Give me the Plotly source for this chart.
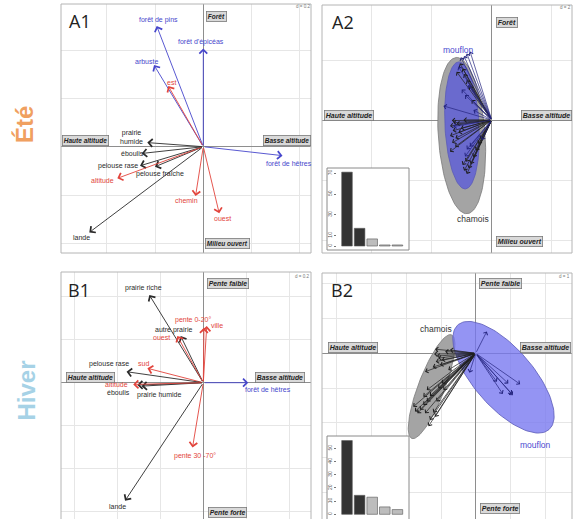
import numpy as np
import plotly.graph_objects as go

W, H = 573, 519

# ---------------- DATA ----------------
# A1 : summer, habitat variables
a1_names = ["forêt de pins", "forêt d'épicéas", "arbuste", "est", "forêt de hêtres",
            "prairie<br>humide", "éboulis", "pelouse rase", "pelouse fraîche",
            "altitude", "chemin", "ouest", "lande"]
a1_x = [-0.193, 0.000, -0.204, -0.145, 0.328, -0.232, -0.255, -0.262, -0.200, -0.356, -0.032, 0.066, -0.472]
a1_y = [0.500, 0.407, 0.338, 0.251, -0.037, 0.017, -0.028, -0.079, -0.083, -0.131, -0.204, -0.276, -0.355]
a1_type = ["b", "b", "b", "r", "b", "k", "k", "k", "k", "r", "r", "r", "k"]

# B1 : winter, habitat variables
b1_names = ["prairie riche", "autre prairie", "ouest", "pente 0-20°", "ville", "sud",
            "pelouse rase", "éboulis", "prairie humide", "altitude", "pente 30 -70°", "lande",
            "forêt de hêtres"]
b1_x = [-0.251, -0.105, -0.121, 0.003, 0.016, -0.260, -0.357, -0.307, -0.287, -0.326, -0.050, -0.364, 0.209]
b1_y = [0.408, 0.217, 0.217, 0.256, 0.264, 0.067, 0.051, -0.011, -0.016, -0.008, -0.301, -0.549, 0.000]
b1_type = ["k", "k", "r", "r", "r", "r", "k", "k", "k", "r", "r", "k", "b"]

# A2 : summer, individuals
a2_mouflon_x = [-0.72, -0.83, -0.92, -1.03, -1.11, -1.00, -0.89, -1.61, -0.61, -0.78, -0.83, -0.89, -0.72, -0.33, -1.28]
a2_mouflon_y = [2.28, 2.22, 2.13, 2.09, 1.78, 1.02, 0.83, 0.47, 0.33, 1.17, -0.98, -1.22, -0.89, -0.67, -0.22]
a2_chamois_x = [-1.06, -0.97, -0.92, -0.83, -0.74, -1.17, -1.33, -1.28, -1.39, -1.30, -1.39, -1.32, -1.39, -1.17, -1.11,
                -1.21, -0.92, -0.83, -0.77, -0.70, -0.61, -0.52, -0.44, -0.37, -0.86, -0.97, -1.03, -0.94, -0.67, -1.22]
a2_chamois_y = [1.89, 1.72, 1.53, 1.33, 1.13, 1.61, -0.02, -0.09, -0.20, -0.36, -0.53, -0.76, -1.06, -0.13, -0.42,
                -0.61, -1.69, -1.80, -1.61, -1.47, -1.24, -1.02, -0.80, -0.64, -1.39, -1.50, -0.28, 0.00, 0.67, -0.89]
# ellipses: centre x, centre y, semi-major, semi-minor, angle (deg)
a2_ell_chamois = [-1.00, -0.52, 2.61, 0.78, 94]
a2_ell_mouflon = [-0.99, -0.18, 2.12, 0.57, 93]

# B2 : winter, individuals
b2_chamois_x = [-1.17, -1.20, -1.12, -1.08, -1.15, -1.03, -1.24, -1.46, -0.98, -0.88, -1.41, -1.51, -1.32, -1.08, -0.98,
                -1.80, -1.75, -1.68, -1.61, -1.51, -1.46, -1.22, -1.17, -1.36, -1.32, -1.13, -0.93, -0.74, -0.79, -1.41]
b2_chamois_y = [0.12, -0.02, -0.08, -0.14, -0.24, -0.34, -0.40, -0.53, -0.19, 0.05, -1.06, -1.25, -1.23, -1.01, -0.87,
                -1.54, -1.68, -1.73, -1.63, -1.49, -1.73, -1.71, -1.83, -2.10, -1.92, -1.39, -1.06, 0.10, -0.48, -1.39]
b2_mouflon_x = [0.32, -0.18, 1.28, 0.94, 0.78, 1.04, 1.07, 0.61]
b2_mouflon_y = [0.63, -0.56, -0.89, -0.87, -1.17, -1.17, -1.21, -0.82]
b2_ell_chamois = [-1.27, -0.96, 1.60, 0.38, 69]
b2_ell_mouflon = [0.80, -0.69, 2.00, 0.85, -49]

# eigenvalue insets
a2_eig = [71, 17, 6.8, 1.0, 1.0]
b2_eig = [56, 14.4, 13, 5.6, 3.6]
a2_eig_ticks = [0, 10, 30, 50, 70]
b2_eig_ticks = [0, 10, 20, 30, 40, 50]

# ---------------- STYLE / LAYOUT ----------------
FONT = "Liberation Sans, Arial, sans-serif"
COL = {"k": "#2a2a2a", "r": "#e2443c", "b": "#4646cc"}

# panel geometry in pixels: frame, origin, pixels per unit, grid step
panels = {
    "A1": dict(ax="", x0=61, x1=311, y0=4, y1=253, ox=203.3, oy=146.7, ppu=241.5, d=0.2),
    "A2": dict(ax="2", x0=322, x1=572, y0=5, y1=253, ox=491.7, oy=120.0, ppu=30.0, d=2),
    "B1": dict(ax="3", x0=61, x1=311, y0=272, y1=519, ox=203.3, oy=382.7, ppu=215.0, d=0.2),
    "B2": dict(ax="4", x0=322, x1=572, y0=273, y1=519, ox=475.7, oy=353.3, ppu=34.7, d=1),
}

fig = go.Figure()
layout = dict(width=W, height=H, margin=dict(l=0, r=0, t=0, b=0),
              paper_bgcolor="white", plot_bgcolor="white", showlegend=False)
shapes = []
annotations = []


def px_x(p):
    return p / W


def px_y(p):
    return 1 - p / H


for key, p in panels.items():
    a = p["ax"]
    xr = [(p["x0"] - p["ox"]) / p["ppu"], (p["x1"] - p["ox"]) / p["ppu"]]
    yr = [(p["oy"] - p["y1"]) / p["ppu"], (p["oy"] - p["y0"]) / p["ppu"]]
    common = dict(showgrid=True, gridcolor="#e6e6e6", gridwidth=1, zeroline=True,
                  zerolinecolor="#8e8e8e", zerolinewidth=1, showticklabels=False,
                  ticks="", showline=False, tick0=0, dtick=p["d"], fixedrange=True)
    layout["xaxis" + a] = dict(domain=[px_x(p["x0"]), px_x(p["x1"])], range=xr,
                               anchor="y" + a, **common)
    layout["yaxis" + a] = dict(domain=[px_y(p["y1"]), px_y(p["y0"])], range=yr,
                               anchor="x" + a, **common)
    bottom = p["y1"] if key.startswith("A") else p["y1"] + 6
    shapes.append(dict(type="rect", xref="paper", yref="paper", layer="above",
                       x0=px_x(p["x0"]), x1=px_x(p["x1"]), y0=px_y(bottom), y1=px_y(p["y0"]),
                       line=dict(color="#b4b4b4", width=1)))
    # dummy trace so the subplot exists
    fig.add_trace(go.Scatter(x=[0], y=[0], mode="markers", marker=dict(size=1, opacity=0),
                             xaxis="x" + a, yaxis="y" + a, hoverinfo="skip"))


def ref(a):
    return "x" + a, "y" + a


def arrow(a, x, y, color, width, size):
    xr_, yr_ = ref(a)
    return dict(x=x, y=y, ax=0, ay=0, xref=xr_, yref=yr_, axref=xr_, ayref=yr_, text="",
                showarrow=True, arrowhead=4, arrowsize=size, arrowwidth=width,
                arrowcolor=color, standoff=0)


def ellipse(params, n=120):
    cx, cy, A, B, ang = params
    t = np.linspace(0, 2 * np.pi, n)
    th = np.deg2rad(ang)
    ex = cx + A * np.cos(t) * np.cos(th) - B * np.sin(t) * np.sin(th)
    ey = cy + A * np.cos(t) * np.sin(th) + B * np.sin(t) * np.cos(th)
    return ex, ey


def paper_text(txt, lx, ly, font, **kw):
    d = dict(x=px_x(lx), y=px_y(ly), xref="paper", yref="paper", showarrow=False, text=txt,
             xanchor="center", yanchor="middle", font=font)
    d.update(kw)
    return d


# ---- A1 / B1 variable arrows + labels ----
a1_offsets = [(2, 6), (-2, 6), (-8, 4), (3, 4), (6, -8), (-16, 6), (-9, 0), (-22, 0),
              (5, -7), (-15, -2), (-9, -5), (3, -5), (-8, -5)]
b1_offsets = [(-6, 7), (-7, 6), (-16, -1), (-11, 8), (10, 0), (-4, 5), (-18, 8), (-19, -7),
              (17, -9), (-17, 0), (2, -9), (-8, -6), (20, -7)]

for names, xs, ys, types, offs, a in [(a1_names, a1_x, a1_y, a1_type, a1_offsets, ""),
                                       (b1_names, b1_x, b1_y, b1_type, b1_offsets, "3")]:
    for n_, x, y, t, (dx, dy) in zip(names, xs, ys, types, offs):
        annotations.append(arrow(a, x, y, COL[t], 0.9, 1.7))
    for n_, x, y, t, (dx, dy) in zip(names, xs, ys, types, offs):
        xr_, yr_ = ref(a)
        annotations.append(dict(x=x, y=y, xref=xr_, yref=yr_, text=n_, showarrow=False,
                                xanchor="center", yanchor="middle",
                                xshift=dx, yshift=dy, font=dict(family=FONT, size=7, color=COL[t])))

# ---- A2 / B2 individuals ----
for a, ell_c, ell_m, cx, cy, mx, my, lab_c, lab_m, mfill in [
        ("2", a2_ell_chamois, a2_ell_mouflon, a2_chamois_x, a2_chamois_y, a2_mouflon_x, a2_mouflon_y,
         (-0.61, -3.31), (-1.11, 2.33), "rgba(96,96,214,0.85)"),
        ("4", b2_ell_chamois, b2_ell_mouflon, b2_chamois_x, b2_chamois_y, b2_mouflon_x, b2_mouflon_y,
         (-1.13, 0.70), (1.71, -2.64), "rgba(118,118,240,0.78)")]:
    ex, ey = ellipse(ell_c)
    fig.add_trace(go.Scatter(x=ex, y=ey, mode="lines", fill="toself", fillcolor="#a4a4a4",
                             line=dict(color="#7a7a7a", width=0.8), xaxis="x" + a, yaxis="y" + a,
                             hoverinfo="skip"))
    ex, ey = ellipse(ell_m)
    fig.add_trace(go.Scatter(x=ex, y=ey, mode="lines", fill="toself", fillcolor=mfill,
                             line=dict(color="#5a5ab8", width=0.8), xaxis="x" + a, yaxis="y" + a,
                             hoverinfo="skip"))
    for x, y in zip(cx, cy):
        annotations.append(arrow(a, x, y, "#1e1e1e", 0.7, 1.3))
    for x, y in zip(mx, my):
        annotations.append(arrow(a, x, y, "#24247e", 0.7, 1.3))
    xr_, yr_ = ref(a)
    annotations.append(dict(x=lab_c[0], y=lab_c[1], xref=xr_, yref=yr_, text="chamois", showarrow=False,
                            xanchor="center", yanchor="middle",
                            font=dict(family=FONT, size=8.5, color="#333333")))
    annotations.append(dict(x=lab_m[0], y=lab_m[1], xref=xr_, yref=yr_, text="mouflon", showarrow=False,
                            xanchor="center", yanchor="middle",
                            font=dict(family=FONT, size=8.5, color="#4a4ad0")))

# ---- eigenvalue insets ----
insets = [
    dict(ax="5", eig=a2_eig, ticks=a2_eig_ticks, bx0=327, bx1=409, by0=168, by1=250, base=246, ppv=1.04),
    dict(ax="6", eig=b2_eig, ticks=b2_eig_ticks, bx0=327, bx1=409, by0=436, by1=525, base=514.3, ppv=1.317),
]
for ins in insets:
    a = ins["ax"]
    by1 = min(ins["by1"], H)
    xr = [(ins["bx0"] - 347) / 12.6, (ins["bx1"] - 347) / 12.6]
    yr = [(ins["base"] - by1) / ins["ppv"], (ins["base"] - ins["by0"]) / ins["ppv"]]
    layout["xaxis" + a] = dict(domain=[px_x(ins["bx0"]), px_x(ins["bx1"])], range=xr, anchor="y" + a,
                               showgrid=False, zeroline=False, showticklabels=False, ticks="",
                               showline=False, fixedrange=True)
    layout["yaxis" + a] = dict(domain=[px_y(by1), px_y(ins["by0"])], range=yr, anchor="free",
                               position=px_x(335.5), showgrid=False, zeroline=False, showline=False,
                               tickvals=ins["ticks"], ticks="outside", ticklen=2, tickcolor="#777",
                               tickangle=-90, tickfont=dict(family=FONT, size=5, color="#555"),
                               fixedrange=True)
    # white background behind the bars, inside this inset subplot
    shapes.append(dict(type="rect", xref="x" + a, yref="y" + a, layer="below",
                       x0=xr[0], x1=xr[1], y0=yr[0], y1=yr[1],
                       fillcolor="white", line=dict(width=0)))
    fig.add_trace(go.Bar(x=list(range(len(ins["eig"]))), y=ins["eig"], width=0.84,
                         marker=dict(color=["#333333", "#333333", "#bdbdbd", "#bdbdbd", "#bdbdbd"],
                                     line=dict(color="#555555", width=0.6)),
                         xaxis="x" + a, yaxis="y" + a, hoverinfo="skip"))
    shapes.append(dict(type="rect", xref="paper", yref="paper", layer="above",
                       x0=px_x(ins["bx0"]), x1=px_x(ins["bx1"]), y0=px_y(ins["by1"]), y1=px_y(ins["by0"]),
                       line=dict(color="#8a8a8a", width=1)))

# ---- axis-meaning boxes ----
boxes = [
    ("Forêt", 216.3, 16.7, 6.5), ("Haute altitude", 85.8, 140.5, 6.5), ("Basse altitude", 287, 140.5, 6.5),
    ("Milieu ouvert", 227, 243.3, 6.5),
    ("Forêt", 506.7, 22.2, 7), ("Haute altitude", 349.5, 115.8, 7), ("Basse altitude", 546.8, 115.8, 7),
    ("Milieu ouvert", 519.2, 241.3, 7),
    ("Pente faible", 227.5, 283, 6.8), ("Haute altitude", 90, 377.5, 6.8), ("Basse altitude", 280.3, 377.5, 6.8),
    ("Pente forte", 227.2, 512.5, 6.8),
    ("Pente faible", 500.5, 283.7, 7), ("Haute altitude", 352.5, 347, 7), ("Basse altitude", 545.3, 347, 7),
    ("Pente forte", 500, 508, 7),
]
for txt, bx, byy, fs in boxes:
    annotations.append(paper_text("<b><i>" + txt + "</i></b>", bx, byy,
                                  dict(family=FONT, size=fs, color="#222222"),
                                  bgcolor="#d9d9d9", bordercolor="#7a7a7a", borderwidth=0.8, borderpad=1))

# ---- panel letters, scale labels, season labels ----
for txt, lx, ly in [("A1", 79.5, 21), ("A2", 343, 21.7), ("B1", 79, 289.5), ("B2", 341.5, 289.5)]:
    annotations.append(paper_text(txt, lx, ly, dict(family="Open Sans, " + FONT, size=18, color="#222222")))
for txt, lx, ly in [("d = 0.2", 303, 6.5), ("d = 2", 565, 7.5), ("d = 0.2", 302, 276), ("d = 1", 564, 276)]:
    annotations.append(paper_text(txt, lx, ly, dict(family=FONT, size=4.5, color="#777777")))
for txt, lx, ly, c in [("Été", 25, 125, "#f0a060"), ("Hiver", 25.5, 391, "#a6d2e6")]:
    annotations.append(paper_text("<b>" + txt + "</b>", lx, ly, dict(family=FONT, size=24, color=c),
                                  textangle=-90))

layout["shapes"] = shapes
layout["annotations"] = annotations
fig.update_layout(**layout)
fig.write_html("out.html", config={"displayModeBar": False},
               post_script="document.body.style.margin='0';document.body.style.overflow='hidden';")
